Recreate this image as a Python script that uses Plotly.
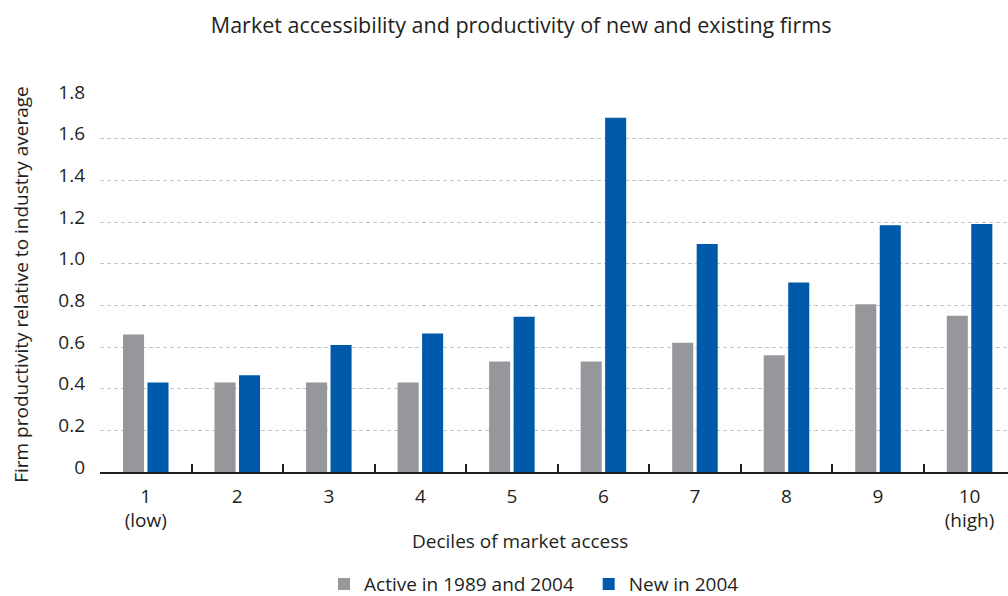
import plotly.graph_objects as go

categories = ["1<br>(low)", "2", "3", "4", "5", "6", "7", "8", "9", "10<br>(high)"]
active = [0.66, 0.43, 0.43, 0.43, 0.53, 0.53, 0.62, 0.56, 0.805, 0.75]
new = [0.43, 0.465, 0.61, 0.665, 0.745, 1.70, 1.095, 0.91, 1.185, 1.19]
y_ticks = [0, 0.2, 0.4, 0.6, 0.8, 1.0, 1.2, 1.4, 1.6, 1.8]
y_ticktext = ["0", "0.2", "0.4", "0.6", "0.8", "1.0", "1.2", "1.4", "1.6", "1.8"]
series_names = ["Active in 1989 and 2004\u00a0\u00a0", "New in 2004"]

FONT = "Open Sans, Noto Sans, sans-serif"
TXT = "#231f20"

fig = go.Figure()
fig.add_trace(go.Bar(x=categories, y=active, name=series_names[0],
                     marker=dict(color="#96979b", line=dict(width=0))))
fig.add_trace(go.Bar(x=categories, y=new, name=series_names[1],
                     marker=dict(color="#005aaa", line=dict(width=0))))

fig.update_layout(
    width=1008, height=596,
    paper_bgcolor="white", plot_bgcolor="white",
    margin=dict(l=100, r=0, t=97, b=124, autoexpand=False),
    barmode="group", bargap=0.465, bargroupgap=0.14,
    font=dict(family=FONT, size=19, color=TXT),
    title=dict(text="Market accessibility and productivity of new and existing firms",
               x=0.517, xanchor="center", y=0.958, yanchor="middle",
               font=dict(size=21.5, color=TXT)),
    legend=dict(orientation="h", x=0.478, xanchor="center", y=-0.299, yanchor="middle",
                font=dict(size=19, color=TXT), itemwidth=30, traceorder="normal"),
    xaxis=dict(
        type="category", range=[-0.5, 9.42], automargin=False,
        showline=True, linecolor="#231f20", linewidth=1.5,
        ticks="inside", ticklen=8, tickwidth=1.5, tickcolor="#231f20",
        tickson="boundaries", showgrid=False, ticklabelstandoff=6,
        tickfont=dict(size=19, color=TXT),
    ),
    yaxis=dict(
        range=[0, 1.8], tickvals=y_ticks, ticktext=y_ticktext, automargin=False,
        showgrid=True, gridcolor="#c4c4c4", griddash="4px,3px", gridwidth=1,
        zeroline=False, showline=False, ticks="", ticklabelstandoff=14,
        ticklabelshift=-5,
        tickfont=dict(size=19, color=TXT),
        title=dict(text="Firm productivity relative to industry average",
                   font=dict(size=19, color=TXT), standoff=24),
    ),
    annotations=[dict(text="Deciles of market access", xref="paper", yref="paper",
                      x=0.4626, y=-0.184, xanchor="center", yanchor="middle",
                      showarrow=False, font=dict(size=19, color=TXT))],
)

post = ("document.body.style.margin='0';document.body.style.overflow='hidden';"
        "var d=document.getElementById('{plot_id}');var p=d.parentElement;"
        "p.style.position='fixed';p.style.top='0';p.style.left='0';")
fig.write_html("out.html", config={"displayModeBar": False}, post_script=post)
